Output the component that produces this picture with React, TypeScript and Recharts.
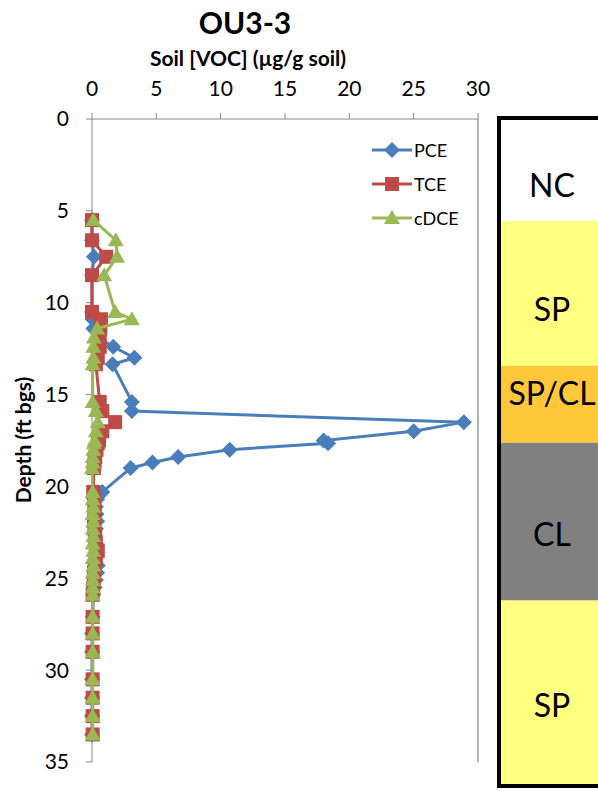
import React from 'react';
import { ScatterChart, Scatter, XAxis, YAxis, Legend, ReferenceLine, BarChart, Bar, LabelList } from 'recharts';

// sample depths (ft bgs), shared by the three compounds
const depths = [
  5.5, 6.6, 7.5, 8.5, 10.5, 10.9, 11.4, 11.9, 12.4, 13.0, 13.35, 15.4, 15.9, 16.5, 17.0,
  17.5, 17.65, 18.0, 18.4, 18.7, 19.0, 20.3, 20.7, 21.1, 21.5, 21.9, 22.3, 22.7, 23.1,
  23.5, 23.9, 24.3, 24.7, 25.1, 25.5, 25.9, 27.1, 28.0, 29.0, 30.5, 31.5, 32.5, 33.5,
];

// soil concentrations, ug/g
const pce = [
  0, 0, 0.15, 0, 0, 0.05, 0.1, 0.5, 1.65, 3.3, 1.6, 3.1, 3.1, 28.9, 25.0,
  18.0, 18.35, 10.7, 6.7, 4.7, 3.0, 0.8, 0.4, 0.3, 0.35, 0.4, 0.3, 0.25, 0.3,
  0.35, 0.3, 0.45, 0.4, 0.3, 0.2, 0.1, 0.05, 0, 0, 0, 0, 0, 0,
];
const tce = [
  0, 0, 1.1, 0, 0, 0.7, 0.65, 0.6, 0.6, 0.45, 0.3, 0.6, 0.8, 1.8, 0.8,
  0.55, 0.45, 0.35, 0.25, 0.2, 0.15, 0.1, 0.15, 0.2, 0.2, 0.15, 0.2, 0.25, 0.3,
  0.45, 0.3, 0.2, 0.15, 0.15, 0.1, 0.05, 0.05, 0.05, 0.05, 0.05, 0.05, 0.05, 0.05,
];
const cdce = [
  0.1, 1.85, 1.95, 0.95, 1.8, 3.1, 0.4, 0.15, 0.1, 0.1, 0.05, 0.05, 0.3, 0.45, 0.3,
  0.2, 0.15, 0.1, 0.05, 0.05, 0, 0.05, 0.05, 0.1, 0.05, 0.1, 0.05, 0.1, 0.05,
  0.1, 0.05, 0.1, 0.05, 0.05, 0.05, 0.05, 0.05, 0.05, 0.05, 0.05, 0.05, 0.05, 0.05,
];

const xTicks = [0, 5, 10, 15, 20, 25, 30];
const yTicks = [0, 5, 10, 15, 20, 25, 30, 35];

// lithology column: layer names and bottom depths (ft)
const lithoNames = ['NC', 'SP', 'SP/CL', 'CL', 'SP'];
const lithoBottoms = [5.5, 13.4, 17.6, 26.2, 36.2];
const lithoColors = ['#ffffff', '#ffff80', '#ffc83a', '#808080', '#ffff80'];
const lithoLabelDy = [14, 15, -12, 12, 12];

const FONT = 'Lato, "Open Sans", sans-serif';
const AXIS = '#868686';

const toPoints = (vals: number[]) => vals.map((v, i) => ({ x: v, y: depths[i] }));

const DiamondShape = (p: any) => {
  const r = 8;
  return <path d={`M${p.cx},${p.cy - r}L${p.cx + r},${p.cy}L${p.cx},${p.cy + r}L${p.cx - r},${p.cy}Z`} fill={p.fill} />;
};
const SquareShape = (p: any) => <rect x={p.cx - 7} y={p.cy - 7} width={14} height={14} fill={p.fill} />;
const TriangleShape = (p: any) => (
  <path d={`M${p.cx},${p.cy - 8}L${p.cx + 8},${p.cy + 6}L${p.cx - 8},${p.cy + 6}Z`} fill={p.fill} />
);

const series = [
  { name: 'PCE', data: toPoints(pce), color: '#4a7ebb', shape: DiamondShape },
  { name: 'TCE', data: toPoints(tce), color: '#be4b48', shape: SquareShape },
  { name: 'cDCE', data: toPoints(cdce), color: '#98b954', shape: TriangleShape },
];

const renderLegend = () => (
  <div style={{ fontFamily: FONT, fontSize: 18 }}>
    {series.map((s) => {
      const Shape = s.shape;
      return (
        <div key={s.name} style={{ display: 'flex', alignItems: 'center', height: 34 }}>
          <svg width={44} height={20}>
            <line x1={2} y1={10} x2={42} y2={10} stroke={s.color} strokeWidth={3} />
            <Shape cx={22} cy={10} fill={s.color} />
          </svg>
          <span>{s.name}</span>
        </div>
      );
    })}
  </div>
);

const lithoRow: Record<string, any> = { name: 'log' };
lithoBottoms.forEach((b, i) => {
  lithoRow['L' + i] = b - (i === 0 ? 0 : lithoBottoms[i - 1]);
});

const LithoLabel = (i: number) => (p: any) => (
  <text
    x={p.x + p.width / 2}
    y={p.y + p.height / 2 + lithoLabelDy[i]}
    textAnchor="middle"
    dominantBaseline="central"
    fontFamily={FONT}
    fontSize={32}
    fill="#000"
  >
    {lithoNames[i]}
  </text>
);

export default function App() {
  return (
    <div style={{ position: 'absolute', left: 0, top: 0, width: 598, height: 791, overflow: 'hidden', background: '#fff' }}>
      <div style={{ position: 'absolute', left: 0, width: 490, top: 4, textAlign: 'center', fontFamily: FONT, fontWeight: 700, fontSize: 30 }}>
        OU3-3
      </div>
      <div style={{ position: 'absolute', left: 0, width: 496, top: 45, textAlign: 'center', fontFamily: FONT, fontWeight: 700, fontSize: 21 }}>
        Soil [VOC] (µg/g soil)
      </div>
      <div
        style={{
          position: 'absolute', left: 22, top: 440, transform: 'translate(-50%, -50%) rotate(-90deg)',
          whiteSpace: 'nowrap', fontFamily: FONT, fontWeight: 700, fontSize: 21,
        }}
      >
        Depth (ft bgs)
      </div>

      <div style={{ position: 'absolute', left: 0, top: 0 }}>
        <ScatterChart width={490} height={791} margin={{ top: 89, right: 12, bottom: 29, left: 32 }}>
          <XAxis
            type="number"
            dataKey="x"
            orientation="top"
            domain={[0, 30]}
            ticks={xTicks}
            height={30}
            tickSize={6}
            tickMargin={17}
            stroke={AXIS}
            tick={{ fill: '#000', fontSize: 21, fontFamily: FONT }}
          />
          <YAxis
            type="number"
            dataKey="y"
            reversed
            domain={[0, 35]}
            ticks={yTicks}
            width={60}
            tickSize={6}
            tickMargin={17}
            stroke={AXIS}
            tick={{ fill: '#000', fontSize: 21, fontFamily: FONT }}
          />
          <ReferenceLine x={30} stroke="#6b6b6b" strokeWidth={1} />
          {series.map((s) => (
            <Scatter
              key={s.name}
              name={s.name}
              data={s.data}
              fill={s.color}
              line={{ strokeWidth: 3 }}
              lineType="joint"
              shape={s.shape}
              isAnimationActive={false}
            />
          ))}
          <Legend
            layout="vertical"
            align="center"
            verticalAlign="middle"
            content={renderLegend}
            wrapperStyle={{ left: 370, top: 133, width: 100 }}
          />
        </ScatterChart>
      </div>

      <div style={{ position: 'absolute', left: 497, top: 116, border: '4px solid #000', width: 102, height: 664 }}>
        <BarChart width={102} height={664} data={[lithoRow]} margin={{ top: 0, right: 0, bottom: 0, left: 0 }} barCategoryGap={0}>
          <XAxis dataKey="name" hide />
          <YAxis type="number" reversed hide domain={[0, lithoBottoms[lithoBottoms.length - 1]]} />
          {lithoNames.map((n, i) => (
            <Bar key={i} dataKey={'L' + i} stackId="litho" fill={lithoColors[i]} isAnimationActive={false}>
              <LabelList dataKey={'L' + i} content={LithoLabel(i)} />
            </Bar>
          ))}
        </BarChart>
      </div>
    </div>
  );
}
